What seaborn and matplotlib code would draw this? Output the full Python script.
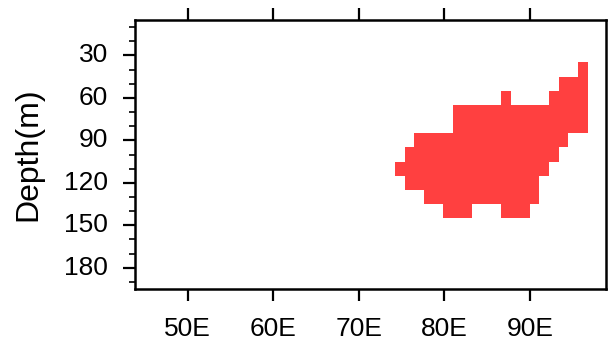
import numpy as np
import pandas as pd
import matplotlib
matplotlib.use("Agg")
import matplotlib.pyplot as plt
from matplotlib.colors import ListedColormap
from matplotlib.ticker import FixedLocator
import seaborn as sns

# ---- data ----
grid_step = 1.125                     # longitude cell size (deg)
lon_west_edge = 43.875                # first grid edge
n_lon = 49
depth_levels = list(range(10, 200, 10))   # cell centres, m (10 m cells)

# red cells per depth level: (first cell west edge, last cell east edge) in deg E
red_depths = [40, 50, 60, 60, 70, 80, 90, 100, 110, 120, 130, 140, 140]
red_lon_from = [95.625, 93.375, 86.625, 92.25, 81.0, 81.0, 76.5, 75.375, 74.25, 75.375, 77.625, 79.875, 86.625]
red_lon_to = [96.75, 96.75, 87.75, 96.75, 96.75, 96.75, 94.5, 93.375, 92.25, 91.125, 91.125, 83.25, 90.0]

xtick_lons = [50, 60, 70, 80, 90]
xtick_labels = ["50E", "60E", "70E", "80E", "90E"]
ytick_depths = [30, 60, 90, 120, 150, 180]
yminor_depths = list(range(10, 200, 10))
xlim_lon = (43.85, 98.85)
ylim_depth = (195, 5)
ylabel = "Depth(m)"
red = "#FF4040"

# ---- build grid ----
lon_centres = lon_west_edge + grid_step * (np.arange(n_lon) + 0.5)
field = pd.DataFrame(0.0, index=depth_levels, columns=np.round(lon_centres, 4))
for d, a, b in zip(red_depths, red_lon_from, red_lon_to):
    cols = [c for c in field.columns if a < c < b]
    field.loc[d, cols] = 1.0

def lon_to_x(lon):
    return (np.asarray(lon, dtype=float) - lon_west_edge) / grid_step

def depth_to_y(d):
    return (np.asarray(d, dtype=float) - (depth_levels[0] - 5)) / 10.0

sns.set_style("ticks")
plt.rcParams["font.family"] = ["Liberation Sans", "DejaVu Sans"]
plt.rcParams["text.color"] = "black"
plt.rcParams["axes.labelcolor"] = "black"
plt.rcParams["xtick.color"] = "black"
plt.rcParams["ytick.color"] = "black"

fig = plt.figure(figsize=(6.08, 3.43), dpi=100)
ax = fig.add_axes([135 / 608, 1 - 289 / 343, 470.5 / 608, 269 / 343])

sns.heatmap(field, mask=field < 0.5, cmap=ListedColormap([red]), vmin=0, vmax=1,
            cbar=False, ax=ax, linewidths=0)

ax.set_xlim(*lon_to_x(xlim_lon))
ax.set_ylim(*depth_to_y(ylim_depth))

ax.xaxis.set_major_locator(FixedLocator(lon_to_x(xtick_lons)))
ax.set_xticklabels(xtick_labels)
ax.yaxis.set_major_locator(FixedLocator(depth_to_y(ytick_depths)))
ax.set_yticklabels([str(v) for v in ytick_depths], rotation=0)
ax.yaxis.set_minor_locator(FixedLocator(depth_to_y(yminor_depths)))
ax.set_xlabel("")
ax.set_ylabel(ylabel, fontsize=23, labelpad=15, color="black")

for s in ax.spines.values():
    s.set_visible(True)
    s.set_linewidth(1.8)
    s.set_color("black")

ax.tick_params(axis="x", which="major", direction="out", length=8.5, width=1.6,
               top=True, bottom=True, labelsize=19, pad=12, labelrotation=0,
               colors="black")
ax.tick_params(axis="y", which="major", direction="out", length=8.5, width=1.6,
               left=True, right=False, labelsize=19, pad=11, colors="black")
ax.tick_params(axis="y", which="minor", direction="out", length=4, width=1.2,
               left=True, right=False, colors="black")
ax.set_facecolor("white")

fig.savefig("out.png", dpi=100, facecolor="white")
